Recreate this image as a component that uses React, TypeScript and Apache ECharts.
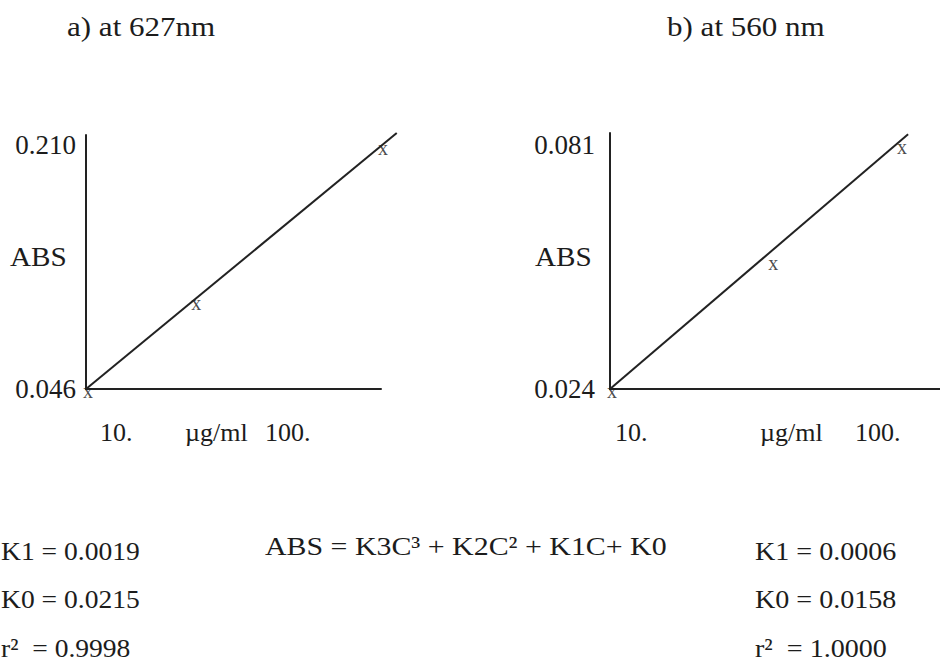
import React, { useEffect, useRef } from "react";
import * as echarts from "echarts";

// ---- data ----
const titles = ["a) at 627nm", "b) at 560 nm"];

const concA = [10, 43, 100];
const absA = [0.046, 0.105, 0.209];
const fitConcA = [10, 104.8];
const fitAbsA = [0.046, 0.218];
const yTicksA = [0.046, 0.21];

const concB = [10, 60, 100];
const absB = [0.024, 0.054, 0.081];
const fitConcB = [10, 102.5];
const fitAbsB = [0.024, 0.0835];
const yTicksB = [0.024, 0.081];

const xLabels = ["10.", "\u00b5g/ml", "100."];
const yName = "ABS";
const equation = "ABS = K3C\u00b3 + K2C\u00b2 + K1C+ K0";
const coefA = ["K1 = 0.0019", "K0 = 0.0215", "r\u00b2  = 0.9998"];
const coefB = ["K1 = 0.0006", "K0 = 0.0158", "r\u00b2  = 1.0000"];

const FONT = "'Liberation Serif', 'Times New Roman', serif";
const INK = "#1c1c1c";

function txt(text: string, x: number, y: number, size = 26, sx = 1.1, align = "left") {
  return {
    type: "text",
    x,
    y,
    scaleX: sx,
    style: {
      text,
      fontFamily: FONT,
      fontSize: size,
      fill: INK,
      textAlign: align,
      textVerticalAlign: "middle",
    },
  };
}

export default function App() {
  const ref = useRef<HTMLDivElement>(null);
  useEffect(() => {
    if (!ref.current) return;
    const chart = echarts.init(ref.current, null, { renderer: "svg" });
    const axisLine = { show: true, onZero: false, lineStyle: { color: "#222", width: 2 } };
    const yLabel = (vals: number[], margin: number) => ({
      show: true,
      customValues: vals,
      formatter: (v: number) => v.toFixed(3),
      fontFamily: FONT,
      fontSize: 27,
      color: INK,
      margin,
    });
    const marker = {
      show: true,
      formatter: "x",
      position: "inside",
      offset: [2, 2],
      fontFamily: FONT,
      fontSize: 20,
      color: "#1a1a1a",
    };
    // px per unit of the left panel, used to extend a hidden twin grid past the x-axis end
    const pxPerC = 295 / (100 - 10);
    const pxPerAbs = 254 / (0.2167 - 0.046);
    const extraW = 16;
    const extraH = 10;
    const option: any = {
      animation: false,
      backgroundColor: "#ffffff",
      grid: [
        { left: 86, top: 135, width: 295, height: 254, outerBoundsMode: "none" },
        { left: 610, top: 133, width: 330, height: 256, outerBoundsMode: "none" },
        { left: 86, top: 135 - extraH, width: 295 + extraW, height: 254 + extraH, outerBoundsMode: "none" },
      ],
      xAxis: [
        {
          gridIndex: 0, type: "value", min: 10, max: 100,
          axisLine, axisTick: { show: false }, axisLabel: { show: false }, splitLine: { show: false },
        },
        {
          gridIndex: 1, type: "value", min: 10, max: 112.4,
          axisLine, axisTick: { show: false }, axisLabel: { show: false }, splitLine: { show: false },
        },
        { gridIndex: 2, type: "value", show: false, min: 10, max: 100 + extraW / pxPerC },
      ],
      yAxis: [
        {
          gridIndex: 0, type: "value", min: 0.046, max: 0.2167,
          axisLine, axisTick: { show: false }, splitLine: { show: false },
          axisLabel: yLabel(yTicksA, 10),
        },
        {
          gridIndex: 1, type: "value", min: 0.024, max: 0.0838,
          axisLine, axisTick: { show: false }, splitLine: { show: false },
          axisLabel: yLabel(yTicksB, 15),
        },
        { gridIndex: 2, type: "value", show: false, min: 0.046, max: 0.2167 + extraH / pxPerAbs },
      ],
      series: [
        {
          type: "line", xAxisIndex: 2, yAxisIndex: 2, clip: false, showSymbol: false,
          data: fitConcA.map((c, i) => [c, fitAbsA[i]]),
          lineStyle: { color: "#222", width: 2 },
        },
        {
          type: "scatter", xAxisIndex: 0, yAxisIndex: 0, clip: false, symbolSize: 1,
          itemStyle: { color: "rgba(0,0,0,0)" },
          data: concA.map((c, i) => [c, absA[i]]),
          label: marker,
        },
        {
          type: "line", xAxisIndex: 1, yAxisIndex: 1, clip: false, showSymbol: false,
          data: fitConcB.map((c, i) => [c, fitAbsB[i]]),
          lineStyle: { color: "#222", width: 2 },
        },
        {
          type: "scatter", xAxisIndex: 1, yAxisIndex: 1, clip: false, symbolSize: 1,
          itemStyle: { color: "rgba(0,0,0,0)" },
          data: concB.map((c, i) => [c, absB[i]]),
          label: marker,
        },
      ],
      graphic: [
        txt(titles[0], 67, 27, 27, 1.15),
        txt(titles[1], 667, 27, 27, 1.15),
        txt(yName, 10, 257, 27, 1.08),
        txt(yName, 535, 257, 27, 1.08),
        txt(xLabels[0], 100, 432, 26, 1.0),
        txt(xLabels[1], 185, 432, 26, 1.0),
        txt(xLabels[2], 265, 432, 26, 1.0),
        txt(xLabels[0], 615, 432, 26, 1.0),
        txt(xLabels[1], 760, 432, 26, 1.0),
        txt(xLabels[2], 855, 432, 26, 1.0),
        txt(equation, 265, 546, 26, 1.15),
        ...coefA.map((t, i) => txt(t, 1, 551 + i * 48.5, 26, 1.06)),
        ...coefB.map((t, i) => txt(t, 755, 551 + i * 48.5, 26, 1.08)),
      ],
    };
    chart.setOption(option);
    return () => chart.dispose();
  }, []);
  return (
    <div
      ref={ref}
      style={{ position: "absolute", left: 0, top: 0, width: 940, height: 669, background: "#fff" }}
    />
  );
}
